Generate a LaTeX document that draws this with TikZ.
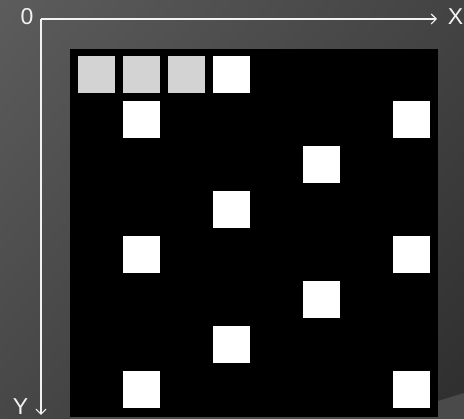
\documentclass[tikz,border=0pt]{standalone}
\usepackage{fontspec}
\setmainfont{Liberation Sans}
\usetikzlibrary{arrows.meta,shadings}
\definecolor{bgTL}{HTML}{5C5C5C}
\definecolor{bgTR}{HTML}{434343}
\definecolor{bgBL}{HTML}{474747}
\definecolor{bgBR}{HTML}{2E2E2E}
\definecolor{band}{HTML}{4A4A4A}
\definecolor{cellgray}{HTML}{D3D3D3}
\definecolor{axiscol}{HTML}{F2F2F2}
\tikzset{
  px/.style={x=1pt,y=-1pt},
  axis/.style={draw=axiscol,line width=1.3pt,-{Straight Barb[length=5pt,width=10pt,line width=1.1pt]}},
  axlabel/.style={text=axiscol,font=\fontsize{23}{23}\selectfont,inner sep=0pt},
  whitecell/.style={fill=white},
  graycell/.style={fill=cellgray},
}
\begin{document}
\begin{tikzpicture}[px]
\useasboundingbox (0,0) rectangle (464,419);
% background
\shade[upper left=bgTL,upper right=bgTR,lower left=bgBL,lower right=bgBR] (0,0) rectangle (464,419);
\fill[band] (438,401) -- (464,393) -- (464,419) -- (438,419) -- cycle;
\fill[band] (70,417) rectangle (438,419);
% board
\fill[black] (70,49) rectangle (438,417);
% cells: top-left = (78+45i, 56+45j), size 37
\foreach \i in {0,1,2}{\fill[graycell] ({78+45*\i},56) rectangle ++(37,37);}
\foreach \i/\j in {3/0, 1/1, 7/1, 5/2, 3/3, 1/4, 7/4, 5/5, 3/6, 1/7, 7/7}{
  \fill[whitecell] ({78+45*\i},{56+45*\j}) rectangle ++(37,37);
}
% axes
\coordinate (O) at (41,19);
\coordinate (Xend) at (437,19);
\coordinate (Yend) at (41,415);
\draw[axis] (O) -- (Xend);
\draw[axis] (O) -- (Yend);
\node[axlabel,anchor=base] (zero) at (27,24.5) {0};
\node[axlabel,anchor=base] (xlab) at (455.5,24.5) {X};
\node[axlabel,anchor=base] (ylab) at (20.5,414.5) {Y};
\end{tikzpicture}
\end{document}
